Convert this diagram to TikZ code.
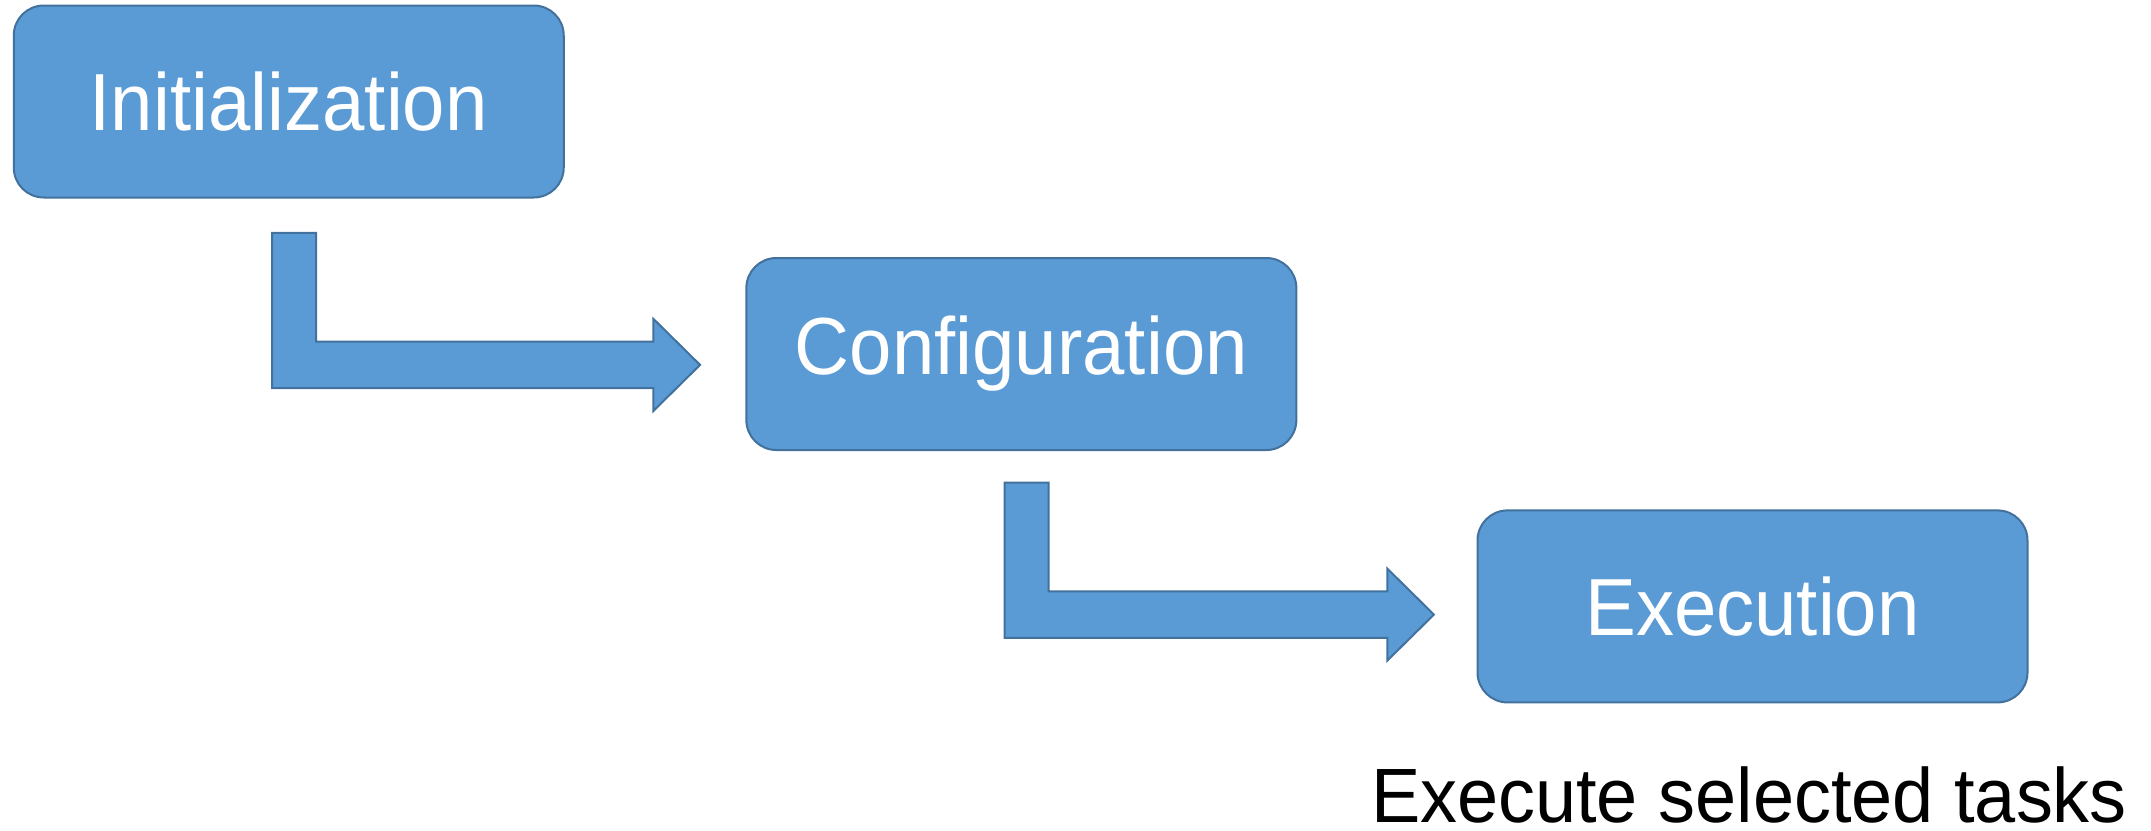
\documentclass[tikz,border=0pt]{standalone}
\usepackage{fontspec}
\setmainfont{Liberation Sans}
\usetikzlibrary{calc}
\definecolor{boxfill}{HTML}{5B9BD5}
\definecolor{boxline}{HTML}{41719C}
\tikzset{
  stage/.style={draw=boxline, fill=boxfill, line width=2pt, rounded corners=30pt,
    minimum width=550pt, minimum height=192pt, inner sep=0pt, text=white,
    font=\fontsize{81}{90}\selectfont},
  bentarrow/.style={draw=boxline, fill=boxfill, line width=2pt, line join=miter},
  caption/.style={anchor=base, inner sep=0pt, text depth=0pt, text=black,
    font=\fontsize{77}{86}\selectfont}
}
\begin{document}
\begin{tikzpicture}[x=1pt, y=-1pt]
  \useasboundingbox (0,0) rectangle (2151,830);
  \node[stage] (init) at (288.75,101.5) {\scalebox{0.94}[1]{Initialization}};
  \node[stage] (conf) at (1021.35,354) {\scalebox{0.94}[1]{Configuration}};
  \node[stage] (exec) at (1752.5,606.4) {\scalebox{0.94}[1]{Execution}};
  \node[caption] (note) at (1749,822) {\scalebox{0.96}[1]{Execute selected tasks}};

  % bent arrow from the first stage to the second
  \coordinate (a1s) at ([xshift=259.3pt,yshift=-34.3pt]init.south west);
  \coordinate (a1t) at ([xshift=-45.3pt,yshift=-10.9pt]conf.west);
  \draw[bentarrow] let \p1=(a1s), \p2=(a1t) in
    (\x1,\y1) -- (\x1+44pt,\y1) -- (\x1+44pt,\y2+23.3pt) -- (\x2-46.6pt,\y2+23.3pt)
    -- (\x2-46.6pt,\y2+46pt) -- (\x2,\y2) -- (\x2-46.6pt,\y2-46pt)
    -- (\x2-46.6pt,\y2-23.3pt) -- (\x1,\y2-23.3pt) -- cycle;

  % bent arrow from the second stage to the third
  \coordinate (a2s) at ([xshift=259.2pt,yshift=-31.5pt]conf.south west);
  \coordinate (a2t) at ([xshift=-42.6pt,yshift=-8.2pt]exec.west);
  \draw[bentarrow] let \p1=(a2s), \p2=(a2t) in
    (\x1,\y1) -- (\x1+44pt,\y1) -- (\x1+44pt,\y2+23.3pt) -- (\x2-46.6pt,\y2+23.3pt)
    -- (\x2-46.6pt,\y2+46pt) -- (\x2,\y2) -- (\x2-46.6pt,\y2-46pt)
    -- (\x2-46.6pt,\y2-23.3pt) -- (\x1,\y2-23.3pt) -- cycle;
\end{tikzpicture}
\end{document}
